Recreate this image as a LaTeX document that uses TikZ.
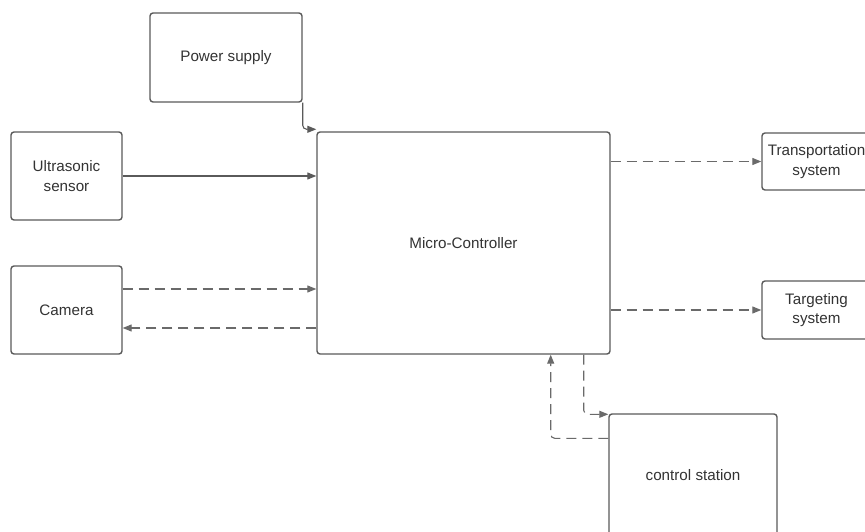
\documentclass[tikz,border=0pt]{standalone}
\usepackage{fontspec}
\setmainfont{Liberation Sans}
\usetikzlibrary{arrows.meta}
\definecolor{edge}{HTML}{5A5A5A}
\definecolor{dline}{HTML}{6A6A6A}
\definecolor{txt}{HTML}{333333}
\tikzset{
  blk/.style={draw=edge, line width=1.4pt, rounded corners=3pt, fill=white,
    text=txt, align=center, font=\fontsize{15.2}{19.5}\selectfont, inner sep=0pt},
  conn/.style={draw=edge, line width=1.1pt, rounded corners=4pt,
    -{Triangle[length=9pt,width=7pt]}},
  dconn/.style={conn, draw=dline, dash pattern=on 10pt off 6pt}
}
\begin{document}
\begin{tikzpicture}[x=1pt,y=-1pt]
\clip (0,0) rectangle (865,532);
\fill[white] (0,0) rectangle (865,532);
\node[blk, minimum width=152pt, minimum height=89pt] (ps) at (226,57.5) {Power supply};
\node[blk, minimum width=293pt, minimum height=222pt] (mc) at (463.5,243) {Micro-Controller};
\node[blk, minimum width=111pt, minimum height=88pt] (us) at (66.5,176) {Ultrasonic\\sensor};
\node[blk, minimum width=111pt, minimum height=88pt] (cam) at (66.5,310) {Camera};
\node[blk, minimum width=109pt, minimum height=57pt] (tr) at (816.5,161.5) {Transportation\\system};
\node[blk, minimum width=109pt, minimum height=58pt] (tg) at (816.5,310) {Targeting\\system};
\node[blk, minimum width=168pt, minimum height=122pt] (cs) at (693,475) {control station};

\draw[conn] (ps.south east) |- ([yshift=2pt]mc.north west);
\draw[conn] (us.east) -- (us.east -| mc.west);
\draw[dconn] ([yshift=21pt]cam.east) -- ([yshift=21pt]cam.east -| mc.west);
\draw[dconn] ([yshift=-18pt]cam.east -| mc.west) -- ([yshift=-18pt]cam.east);
\draw[dconn] (tr.west -| mc.east) -- (tr.west);
\draw[dconn] (tg.west -| mc.east) -- (tg.west);
\draw[dconn] ([xshift=-27pt]mc.south east) |- ([yshift=-1pt]cs.north west);
\draw[dconn] ([yshift=-25pt]cs.north west) -| ([xshift=-60pt]mc.south east);
\end{tikzpicture}
\end{document}
